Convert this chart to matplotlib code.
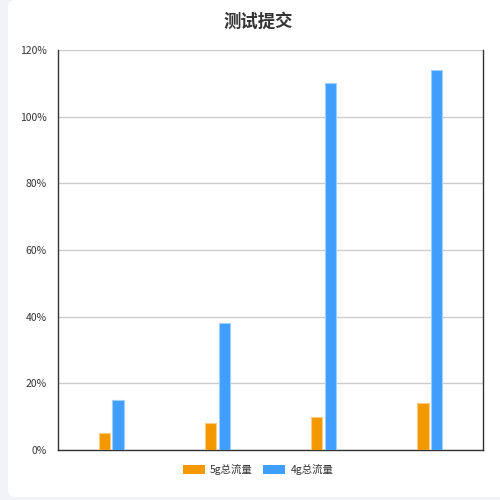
import matplotlib
matplotlib.use("Agg")
import matplotlib.pyplot as plt
import numpy as np
from matplotlib.patches import FancyBboxPatch
from matplotlib.ticker import FuncFormatter

plt.rcParams['font.family'] = ['Noto Sans CJK SC', 'DejaVu Sans']

categories = ['A', 'B', 'C', 'D']
series_names = ['5g总流量', '4g总流量']
flow_5g = [5, 8, 10, 14]
flow_4g = [15, 38, 110, 114]
colors = ['#f39800', '#409eff']
edge_colors = ['#f9cc80', '#9fceff']

fig = plt.figure(figsize=(5, 5), dpi=100)
fig.patch.set_facecolor('#f2f3f8')
card = FancyBboxPatch((0.026, 0.016), 1.0, 0.974,
                      boxstyle='round,pad=0.01,rounding_size=0.015',
                      transform=fig.transFigure, facecolor='white',
                      edgecolor='none', zorder=-10)
fig.patches.append(card)

ax = fig.add_axes([0.116, 0.1, 0.85, 0.8])
ax.set_facecolor('none')

x = np.arange(len(categories))
w = 0.105
off = 0.065
for i, (vals, name) in enumerate(zip([flow_5g, flow_4g], series_names)):
    ax.bar(x + (i * 2 - 1) * off, vals, width=w, color=colors[i],
           edgecolor=edge_colors[i], linewidth=0.8, label=name, zorder=3)

ax.set_xlim(-0.5, len(categories) - 0.5)
ax.set_ylim(0, 120)
ax.set_yticks(np.arange(0, 121, 20))
ax.yaxis.set_major_formatter(FuncFormatter(lambda v, p: f'{int(v)}%'))
ax.set_xticks([])
ax.tick_params(axis='y', length=0, labelsize=7.5, labelcolor='#333333', pad=8)
ax.grid(axis='y', color='#cccccc', linewidth=1, zorder=0)
for s in ['left', 'bottom', 'right']:
    ax.spines[s].set_color('#333333')
    ax.spines[s].set_linewidth(1)
ax.spines['top'].set_visible(False)

fig.text(0.516, 0.956, '测试提交', ha='center', va='center', fontsize=12.5,
         fontweight='bold', color='#333333')

leg = ax.legend(loc='upper center', bbox_to_anchor=(0.471, -0.012), ncol=2,
                frameon=False, fontsize=7.5, handlelength=2.1, handleheight=0.9,
                columnspacing=1.0, handletextpad=0.5, labelcolor='#333333')
for h in leg.legend_handles:
    h.set_edgecolor('none')

fig.savefig('out.png', dpi=100, facecolor=fig.get_facecolor())
